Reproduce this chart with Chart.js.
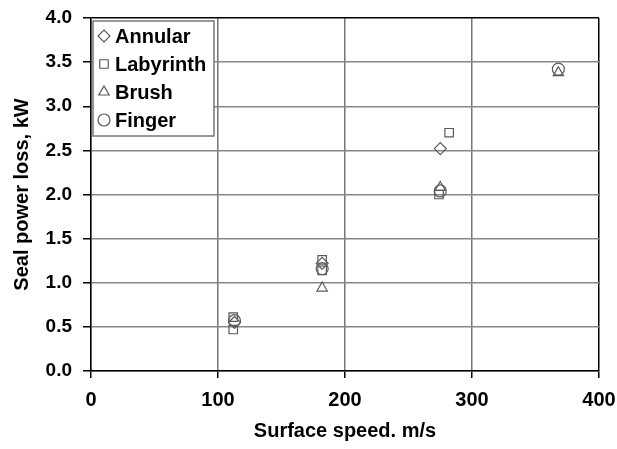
<!DOCTYPE html>
<html>
<head>
<meta charset="utf-8">
<script src="https://cdn.jsdelivr.net/npm/chart.js@4.4.0/dist/chart.umd.min.js"></script>
<style>
  html, body { margin: 0; padding: 0; background: #fff; }
  #wrap { width: 617px; height: 449px; }
</style>
</head>
<body>
<div id="wrap"><canvas id="chart" width="617" height="449"></canvas></div>
<script>
// values
const seriesNames = ['Annular', 'Labyrinth', 'Brush', 'Finger'];
const annularSpeed = [113, 182, 275];
const annularLoss = [0.55, 1.22, 2.52];
const labyrinthSpeed = [112, 112, 182, 182, 274, 282];
const labyrinthLoss = [0.61, 0.47, 1.26, 1.14, 2.0, 2.7];
const brushSpeed = [182, 275, 368];
const brushLoss = [0.94, 2.08, 3.38];
const fingerSpeed = [113, 182, 275, 368];
const fingerLoss = [0.57, 1.16, 2.04, 3.42];
const xTicks = [0, 100, 200, 300, 400];
const yTicks = [0, 0.5, 1, 1.5, 2, 2.5, 3, 3.5, 4];

const markerStyles = ['rectRot', 'rect', 'triangle', 'circle'];
const markerColor = '#5a5a5a';
const FONT = '"Liberation Sans", Arial, sans-serif';

function toPoints(xs, ys) {
    return xs.map((x, i) => ({ x: x, y: ys[i] }));
}

const allSeries = [
    toPoints(annularSpeed, annularLoss),
    toPoints(labyrinthSpeed, labyrinthLoss),
    toPoints(brushSpeed, brushLoss),
    toPoints(fingerSpeed, fingerLoss)
];

// legend drawn as a boxed key inside the plot, like the original
const boxLegend = {
    id: 'boxLegend',
    afterDatasetsDraw(chart) {
        const ctx = chart.ctx;
        const a = chart.chartArea;
        const x0 = a.left + 2, y0 = a.top + 3;
        ctx.save();
        ctx.fillStyle = '#fff';
        ctx.strokeStyle = '#777';
        ctx.lineWidth = 1.5;
        ctx.fillRect(x0, y0, 121, 115);
        ctx.strokeRect(x0, y0, 121, 115);
        ctx.textBaseline = 'middle';
        seriesNames.forEach((name, i) => {
            const cy = y0 + 15 + i * 28;
            ctx.fillStyle = 'rgba(0,0,0,0)';
            ctx.strokeStyle = markerColor;
            ctx.lineWidth = 1.2;
            Chart.helpers.drawPoint(ctx, {
                pointStyle: markerStyles[i], radius: 6, borderWidth: 1.2
            }, x0 + 11, cy);
            ctx.fillStyle = '#000';
            ctx.font = 'bold 20px ' + FONT;
            ctx.fillText(name, x0 + 22, cy + 1);
        });
        ctx.restore();
    }
};

const ctx = document.getElementById('chart').getContext('2d');
new Chart(ctx, {
    type: 'scatter',
    data: {
        datasets: allSeries.map((pts, i) => ({
            label: seriesNames[i],
            data: pts,
            pointStyle: markerStyles[i],
            pointRadius: 6,
            pointBorderWidth: 1.2,
            borderColor: markerColor,
            backgroundColor: 'rgba(0,0,0,0)'
        }))
    },
    options: {
        responsive: false,
        animation: false,
        layout: { padding: { top: 18, right: 18, left: 0, bottom: 0 } },
        plugins: {
            legend: { display: false },
            tooltip: { enabled: false }
        },
        scales: {
            x: {
                type: 'linear',
                min: 0, max: 400,
                afterBuildTicks: (s) => { s.ticks = xTicks.map(v => ({ value: v })); },
                afterFit: (s) => {
                    s.height = 78;
                    s.paddingLeft = 0;
                    s.paddingRight = 0;
                },
                grid: {
                    color: (c) => c.tick && c.tick.value === 400 ? '#000' : '#777',
                    lineWidth: 1.5,
                    tickLength: 7,
                    tickColor: '#000'
                },
                border: { color: '#000', width: 1.5 },
                ticks: {
                    color: '#000',
                    font: { family: FONT, size: 20, weight: 'bold' },
                    padding: 10,
                    maxRotation: 0
                },
                title: {
                    display: true,
                    text: 'Surface speed. m/s',
                    color: '#000',
                    font: { family: FONT, size: 20, weight: 'bold' },
                    padding: { top: 0, bottom: 6 }
                }
            },
            y: {
                type: 'linear',
                min: 0, max: 4,
                afterBuildTicks: (s) => { s.ticks = yTicks.map(v => ({ value: v })); },
                afterFit: (s) => {
                    s.width = 91;
                    s.paddingTop = 0;
                    s.paddingBottom = 0;
                },
                grid: {
                    color: (c) => c.tick && c.tick.value === 4 ? '#000' : '#888',
                    lineWidth: 1.5,
                    tickLength: 8,
                    tickColor: '#000'
                },
                border: { color: '#000', width: 1.5 },
                ticks: {
                    color: '#000',
                    font: { family: FONT, size: 19, weight: 'bold' },
                    padding: 11,
                    callback: (v) => Number(v).toFixed(1)
                },
                title: {
                    display: true,
                    text: 'Seal power loss, kW',
                    color: '#000',
                    font: { family: FONT, size: 20, weight: 'bold' },
                    padding: { top: 10, bottom: 0 }
                }
            }
        }
    },
    plugins: [boxLegend]
});
</script>
</body>
</html>
